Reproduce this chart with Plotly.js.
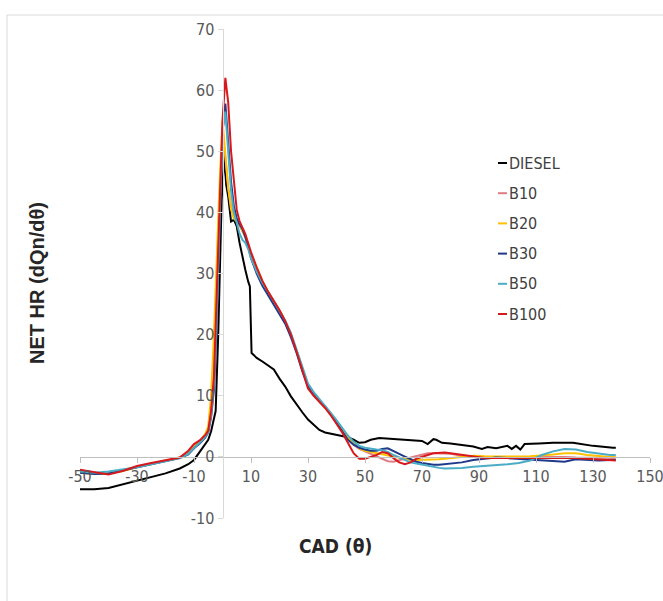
<!DOCTYPE html>
<html>
<head>
<meta charset="utf-8">
<script src="https://cdn.plot.ly/plotly-3.0.1.min.js"></script>
<style>
  html, body { margin: 0; padding: 0; background: #ffffff; }
  #chart { width: 663px; height: 601px; }
</style>
</head>
<body>
<div id="chart"></div>
<script>
// ---- data ----
var seriesNames = ["DIESEL", "B10", "B20", "B30", "B50", "B100"];
var seriesColors = ["#000000", "#E07C86", "#FFC000", "#1F3A8A", "#4BACC6", "#D7191C"];

var xTickVals = [-50, -30, -10, 10, 30, 50, 70, 90, 110, 130, 150];
var xTickText = ["-50", "-30", "-10", "10", "30", "50", "70", "90", "110", "130", "150"];
var yTickVals = [-10, 0, 10, 20, 30, 40, 50, 60, 70];
var yTickText = ["-10", "0", "10", "20", "30", "40", "50", "60", "70"];

var dieselX = [-50,-45,-40,-35,-30,-25,-20,-15,-12,-10,-8,-6,-5,-4,-3,-2.4,-1.5,-0.9,-0.3,0.6,1.3,2,3,4,5,6,7,8,9,9.6,10.2,12,14,16,18,20,22,24,26,28,30,32,34,36,38,40,42,44,46,48,50,52,55,60,65,70,72,74,75,77,80,84,88,91,93,96,100,101.5,103,104.5,106,111,116,123,130,137,138];
var dieselY = [-5.3,-5.3,-5.1,-4.5,-3.8,-3.3,-2.7,-1.9,-1.2,-0.5,0.8,2.1,2.8,4.2,6.0,7.5,20,34,42,49.3,44.5,42.6,38.5,38.8,37.7,35,32.5,30.6,28.7,27.9,17,16.2,15.6,14.9,14.3,12.8,11.5,9.9,8.5,7.3,6.1,5.2,4.4,4.0,3.8,3.6,3.4,3.2,2.8,2.3,2.4,2.8,3.1,2.9,2.8,2.6,2.1,2.9,2.8,2.3,2.2,2.0,1.7,1.3,1.6,1.4,1.8,1.3,1.8,1.2,2.1,2.2,2.3,2.3,1.8,1.5,1.5];

var blendX = [-50,-45,-40,-35,-30,-25,-20,-15,-12,-10,-8,-6,-5,-4,-3,-2,-1,0,1,2,3,4,5,6,7,8,9,10,12,14,16,18,20,22,24,26,28,30,32,34,36,38,40,42,44,46,48,50,52,54,56,58,60,62,64,66,68,70,72,74,76,78,80,84,88,92,96,100,104,108,112,116,120,124,128,132,136,138];

var b10Y = [-2.5,-2.7,-2.6,-2.2,-1.6,-1.1,-0.6,-0.1,0.7,1.7,2.5,3.6,4.6,8.5,17,30,43,52.5,49,44,41,39.5,38.5,37.8,37,36,34.6,33,30.8,28.7,27,25.5,24,22.2,20,17.3,14.2,11.5,10.2,9.2,8.1,6.9,5.6,4.3,3.0,2.0,1.3,0.9,0.5,0.2,-0.3,-0.7,-0.8,-0.5,-0.3,-0.1,0.1,0.4,0.6,0.6,0.6,0.5,0.5,0.2,0,-0.2,-0.2,-0.1,-0.1,0,0,0.05,0,-0.1,-0.1,-0.2,-0.2,-0.2];

var b20Y = [-2.6,-2.8,-2.7,-2.3,-1.7,-1.2,-0.7,-0.1,0.8,1.8,2.5,3.8,5,10,20,33,45,55,50,44,40.5,39,38.5,38,37,36,34.8,33.2,31,28.8,27,25.5,24,22.2,20,17.4,14.4,11.8,10.4,9.3,8.2,7,5.8,4.6,3.2,2.2,1.4,1.0,0.8,0.6,0.4,0.2,0.05,-0.2,-0.4,-0.5,-0.5,-0.5,-0.5,-0.5,-0.4,-0.3,-0.2,0,0.2,0.1,0.05,0.05,0.05,0.1,0.2,0.4,0.6,0.6,0.3,0.1,0,0];

var b30Y = [-2.6,-2.8,-2.7,-2.2,-1.6,-1.1,-0.6,-0.2,0.4,1.4,2.2,3.2,4,6.5,11,22,38,53,57.8,52,45,41,39,38,37.3,36,34.5,32.5,30,28,26.5,25,23.5,21.8,19.6,17,14,11.5,10.2,9.2,8.2,7,5.6,4.1,2.8,2.0,1.5,1.2,1.0,1.0,1.3,1.4,1.0,0.5,0.05,-0.4,-0.8,-1.0,-1.2,-1.3,-1.3,-1.2,-1.1,-0.9,-0.5,-0.3,-0.1,-0.2,-0.3,-0.4,-0.5,-0.6,-0.8,-0.4,-0.5,-0.6,-0.5,-0.5];

var b50Y = [-2.4,-2.6,-2.4,-2.1,-1.7,-1.2,-0.7,-0.2,0.5,1.5,2.3,3.3,4.1,6.8,12,23,39,53.5,56.5,50,43.5,40,38,36.5,35.5,35,34,32.5,30.3,28.5,27,25.5,24,22.3,20.3,17.6,14.6,12,10.6,9.5,8.3,7.2,6,4.8,3.5,2.5,1.8,1.5,1.3,1.2,1.1,0.8,0.3,-0.1,-0.5,-0.9,-1.1,-1.3,-1.5,-1.6,-1.8,-1.9,-1.9,-1.8,-1.6,-1.5,-1.3,-1.2,-1.0,-0.6,0.3,0.9,1.3,1.2,0.8,0.5,0.3,0.3];

var b100Y = [-2.1,-2.5,-2.9,-2.3,-1.5,-1.0,-0.6,-0.1,1.0,2.1,2.7,3.6,4.3,7.5,13,26,42,55,62,58,50,44.5,40.4,38.5,37.6,36.5,35,33.5,31,28.8,27,25.6,24,22.2,20,17.2,14,11.2,10,9,8,6.8,5.5,4,2.3,0.6,-0.3,-0.3,0,0.3,0.8,0.6,-0.2,-0.9,-1.2,-0.9,-0.3,0.05,0.3,0.6,0.7,0.7,0.6,0.3,0,-0.2,-0.2,-0.2,-0.2,-0.2,-0.2,-0.1,-0.1,-0.2,-0.3,-0.4,-0.6,-0.6];

var yValues = [dieselY, b10Y, b20Y, b30Y, b50Y, b100Y];
var xValues = [dieselX, blendX, blendX, blendX, blendX, blendX];

var xTitle = "CAD (θ)";
var yTitle = "NET HR (dQn/dθ)";

// ---- layout constants ----
var W = 663, H = 601;
var M = {l: 80, r: 13, t: 29, b: 83};
var plotW = W - M.l - M.r, plotH = H - M.t - M.b;
function px2paperX(px) { return (px - M.l) / plotW; }
function px2paperY(py) { return (H - M.b - py) / plotH; }

var narrowFamily = "'Liberation Sans Narrow', 'Arial Narrow', 'DejaVu Sans Condensed', sans-serif";
var tickFont = {family: narrowFamily, size: 16, color: "#595959"};

var traces = seriesNames.map(function (name, i) {
  return {
    type: "scatter",
    mode: "lines",
    name: name,
    x: xValues[i],
    y: yValues[i],
    line: {color: seriesColors[i], width: 2},
    showlegend: false,
    hoverinfo: "x+y+name"
  };
});

// legend built as short line shapes + text annotations
var legendTop = 163, legendStep = 30.2, legendX0 = 498, legendLen = 9;
var shapes = [
  {type: "rect", xref: "paper", yref: "paper",
   x0: px2paperX(7), x1: px2paperX(668), y0: px2paperY(606), y1: px2paperY(15),
   line: {color: "#D9D9D9", width: 1}, fillcolor: "rgba(0,0,0,0)", layer: "below"}
];
var annotations = [];
seriesNames.forEach(function (name, i) {
  var yy = legendTop + i * legendStep;
  shapes.push({type: "line", xref: "paper", yref: "paper",
    x0: px2paperX(legendX0), x1: px2paperX(legendX0 + legendLen),
    y0: px2paperY(yy), y1: px2paperY(yy),
    line: {color: seriesColors[i], width: 2}});
  annotations.push({xref: "paper", yref: "paper", x: px2paperX(legendX0 + legendLen), y: px2paperY(yy),
    xanchor: "left", yanchor: "middle", showarrow: false, text: name,
    font: {family: narrowFamily, size: 16, color: "#404040"}});
});
annotations.push({xref: "paper", yref: "paper", x: px2paperX(335), y: px2paperY(546),
  xanchor: "center", yanchor: "middle", showarrow: false, text: "<b>" + xTitle + "</b>",
  font: {family: narrowFamily, size: 19, color: "#262626"}});
annotations.push({xref: "paper", yref: "paper", x: px2paperX(37), y: px2paperY(283),
  xanchor: "center", yanchor: "middle", showarrow: false, textangle: -90, text: "<b>" + yTitle + "</b>",
  font: {family: "'Liberation Sans', Arial, sans-serif", size: 20, color: "#262626"}});

var layout = {
  width: W, height: H,
  margin: M,
  paper_bgcolor: "#ffffff",
  plot_bgcolor: "rgba(0,0,0,0)",
  showlegend: false,
  xaxis: {
    range: [-50, 150], tickmode: "array", tickvals: xTickVals, ticktext: xTickText,
    anchor: "free", position: 10 / 80, ticklabeloverflow: "allow",
    showgrid: false, zeroline: false,
    showline: true, linecolor: "#BFBFBF", linewidth: 1,
    ticks: "outside", ticklen: 5, tickcolor: "#BFBFBF",
    tickfont: tickFont, fixedrange: true
  },
  yaxis: {
    range: [-10, 70], tickmode: "array", tickvals: yTickVals, ticktext: yTickText,
    anchor: "free", position: 50 / 200, ticklabeloverflow: "allow",
    showgrid: false, zeroline: false,
    showline: true, linecolor: "#D9D9D9", linewidth: 1,
    ticks: "outside", ticklen: 5, tickcolor: "#D9D9D9",
    tickfont: tickFont, fixedrange: true
  },
  shapes: shapes,
  annotations: annotations
};

Plotly.newPlot("chart", traces, layout, {displayModeBar: false, staticPlot: true});
</script>
</body>
</html>
